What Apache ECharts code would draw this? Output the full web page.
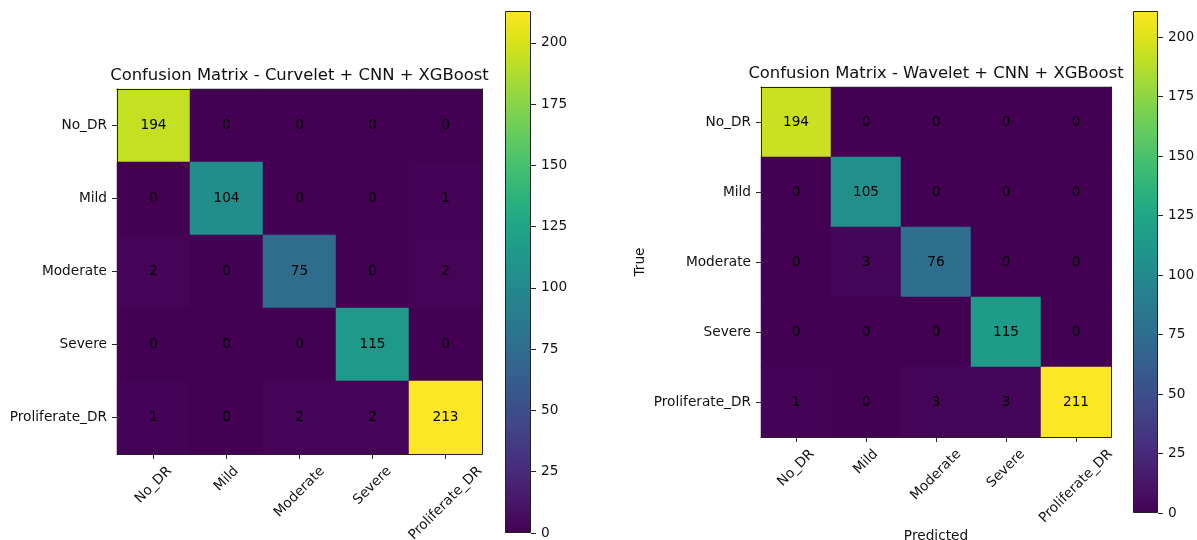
<!DOCTYPE html>
<html>
<head>
<meta charset="utf-8">
<title>Confusion matrices</title>
<script src="https://cdn.jsdelivr.net/npm/echarts@6/dist/echarts.min.js"></script>
<style>
  html, body { margin: 0; padding: 0; background: #fff; }
  #chart { width: 1197px; height: 540px; }
</style>
</head>
<body>
<div id="chart"></div>
<script>
// Class names shared by both matrices (rows = true, columns = predicted)
const CLASSES = ['No_DR', 'Mild', 'Moderate', 'Severe', 'Proliferate_DR'];

const CURVELET_CM = [
  [194, 0, 0, 0, 0],
  [0, 104, 0, 0, 1],
  [2, 0, 75, 0, 2],
  [0, 0, 0, 115, 0],
  [1, 0, 2, 2, 213]
];

const WAVELET_CM = [
  [194, 0, 0, 0, 0],
  [0, 105, 0, 0, 0],
  [0, 3, 76, 0, 0],
  [0, 0, 0, 115, 0],
  [1, 0, 3, 3, 211]
];

const CBAR_TICKS = [0, 25, 50, 75, 100, 125, 150, 175, 200];

const TITLE_CURVELET = 'Confusion Matrix - Curvelet + CNN + XGBoost';
const TITLE_WAVELET = 'Confusion Matrix - Wavelet + CNN + XGBoost';
const X_NAME = 'Predicted';
const Y_NAME = 'True';

// viridis colormap samples, low to high
const VIRIDIS = [
  '#440154', '#471365', '#482475', '#463480', '#414487', '#3b528b', '#355f8d',
  '#2f6c8e', '#2a788e', '#25848e', '#21918c', '#1e9c89', '#22a884', '#2fb47c',
  '#44bf70', '#5ec962', '#7ad151', '#9bd93c', '#bddf26', '#dfe318', '#fde725'
];

const FF = '"DejaVu Sans", sans-serif';
const FS = 13.7;
const TITLE_FS = 16.4;
const LINE = '#222';
const TEXT = '#111';

function cells(m) {
  const out = [];
  m.forEach((row, i) => row.forEach((v, j) => out.push([j, i, v])));
  return out;
}
function maxOf(m) { return Math.max.apply(null, m.flat()); }

// Rotated tick labels are centred under their tick: each label is pushed
// back along its baseline (right padding) and down across it (an empty
// first line of matching height), both by a quarter of its own width.
const measureCtx = document.createElement('canvas').getContext('2d');
measureCtx.font = FS + 'px "DejaVu Sans"';
function rotatedCats() {
  return CLASSES.map(c => {
    const w = measureCtx.measureText(c).width;
    return {
      value: c,
      textStyle: {
        align: 'center', verticalAlign: 'middle',
        padding: [0, 0.5 * w, 0, 0], lineHeight: 0.5 * w
      }
    };
  });
}

const gradient = {
  type: 'linear', x: 0, y: 1, x2: 0, y2: 0,
  colorStops: VIRIDIS.map((c, i) => ({ offset: i / (VIRIDIS.length - 1), color: c }))
};

const lineStyle = { color: LINE, width: 1 };

function heatAxes(gi, withNames) {
  const xs = [
    {
      gridIndex: gi, type: 'category', data: rotatedCats(), position: 'bottom', z: 10,
      axisLine: { show: true, lineStyle },
      axisTick: { show: true, alignWithLabel: true, interval: 0, length: 5, lineStyle },
      axisLabel: {
        interval: 0, rotate: 45, align: 'center', verticalAlign: 'middle', margin: 15,
        fontSize: FS, fontFamily: FF, color: TEXT,
        formatter: v => '\n' + v
      },
      splitLine: { show: false },
      name: withNames ? X_NAME : '', nameLocation: 'middle', nameGap: 92, nameMoveOverlap: false,
      nameTextStyle: { fontSize: FS, fontFamily: FF, color: TEXT, verticalAlign: 'top' }
    },
    {
      gridIndex: gi, type: 'category', data: CLASSES, position: 'top', z: 10,
      axisLine: { show: true, lineStyle }, axisTick: { show: false },
      axisLabel: { show: false }, splitLine: { show: false }
    }
  ];
  const ys = [
    {
      gridIndex: gi, type: 'category', data: CLASSES, inverse: true, position: 'left', z: 10,
      axisLine: { show: true, lineStyle },
      axisTick: { show: true, alignWithLabel: true, interval: 0, length: 5, lineStyle },
      axisLabel: { interval: 0, margin: 10, fontSize: FS, fontFamily: FF, color: TEXT },
      splitLine: { show: false },
      name: withNames ? Y_NAME : '', nameLocation: 'middle', nameGap: 114, nameRotate: 90,
      nameMoveOverlap: false,
      nameTextStyle: { fontSize: FS, fontFamily: FF, color: TEXT }
    },
    {
      gridIndex: gi, type: 'category', data: CLASSES, inverse: true, position: 'right', z: 10,
      axisLine: { show: true, lineStyle }, axisTick: { show: false },
      axisLabel: { show: false }, splitLine: { show: false }
    }
  ];
  return { xs, ys };
}

function cbarAxes(gi, vmax) {
  return {
    x: { gridIndex: gi, type: 'category', data: ['v'], show: false },
    y: {
      gridIndex: gi, type: 'value', min: 0, max: vmax, position: 'right',
      axisLine: { show: false },
      axisTick: { show: true, length: 5, lineStyle, customValues: CBAR_TICKS },
      axisLabel: { margin: 10, fontSize: FS, fontFamily: FF, color: TEXT, customValues: CBAR_TICKS },
      splitLine: { show: false }
    }
  };
}

const maxL = maxOf(CURVELET_CM);
const maxR = maxOf(WAVELET_CM);

const hL = heatAxes(0, false);
const cL = cbarAxes(1, maxL);
const hR = heatAxes(2, true);
const cR = cbarAxes(3, maxR);

function heatSeries(xi, yi, m) {
  return {
    type: 'heatmap', xAxisIndex: xi, yAxisIndex: yi, data: cells(m),
    label: { show: true, color: '#000', fontSize: FS, fontFamily: FF },
    itemStyle: { borderWidth: 0 },
    emphasis: { disabled: true }, silent: true
  };
}
function barSeries(xi, yi, vmax) {
  return {
    type: 'bar', xAxisIndex: xi, yAxisIndex: yi, data: [vmax],
    barWidth: '100%', silent: true,
    itemStyle: { color: gradient, borderColor: LINE, borderWidth: 1 }
  };
}

const titleStyle = { fontSize: TITLE_FS, fontFamily: FF, fontWeight: 'normal', color: TEXT, lineHeight: 17 };

const option = {
  animation: false,
  backgroundColor: '#fff',
  title: [
    { text: TITLE_CURVELET, left: 299.5, top: 67, textAlign: 'center', padding: 0, textStyle: titleStyle },
    { text: TITLE_WAVELET, left: 936, top: 65, textAlign: 'center', padding: 0, textStyle: titleStyle }
  ],
  grid: [
    { left: 117, top: 89, width: 365, height: 365, outerBoundsMode: 'none', containLabel: false },
    { left: 505, top: 11, width: 26, height: 522, outerBoundsMode: 'none', containLabel: false },
    { left: 761, top: 87, width: 350, height: 350, outerBoundsMode: 'none', containLabel: false },
    { left: 1133, top: 11, width: 25, height: 502, outerBoundsMode: 'none', containLabel: false }
  ],
  xAxis: [hL.xs[0], hL.xs[1], cL.x, hR.xs[0], hR.xs[1], cR.x],
  yAxis: [hL.ys[0], hL.ys[1], cL.y, hR.ys[0], hR.ys[1], cR.y],
  visualMap: [
    { type: 'continuous', seriesIndex: 0, min: 0, max: maxL, show: false, inRange: { color: VIRIDIS } },
    { type: 'continuous', seriesIndex: 2, min: 0, max: maxR, show: false, inRange: { color: VIRIDIS } }
  ],
  series: [
    heatSeries(0, 0, CURVELET_CM),
    barSeries(2, 2, maxL),
    heatSeries(3, 3, WAVELET_CM),
    barSeries(5, 5, maxR)
  ]
};

const chart = echarts.init(document.getElementById('chart'), null, { renderer: 'canvas' });
chart.setOption(option);
</script>
</body>
</html>
